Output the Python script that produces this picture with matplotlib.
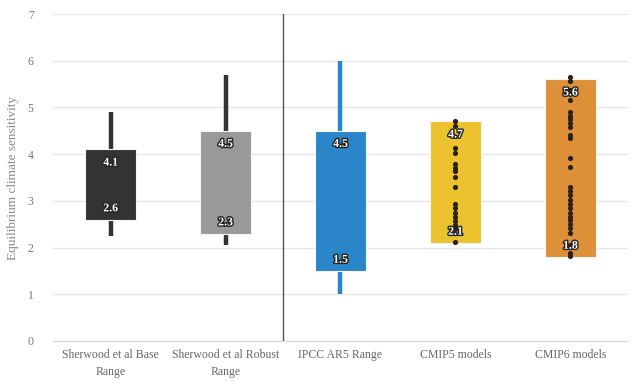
# Equilibrium climate sensitivity ranges vs. CMIP model spreads
import numpy as np
import matplotlib.pyplot as plt
import matplotlib.patheffects as pe

plt.rcParams['font.family'] = ['Liberation Serif', 'DejaVu Serif']

# Categories and ranges
categories = ["Sherwood et al Base\nRange", "Sherwood et al Robust\nRange",
              "IPCC AR5 Range", "CMIP5 models", "CMIP6 models"]
box_low = [2.6, 2.3, 1.5, 2.1, 1.8]
box_high = [4.1, 4.5, 4.5, 4.7, 5.6]
whisker_low = [2.25, 2.05, 1.0, None, None]
whisker_high = [4.9, 5.7, 6.0, None, None]
colors = ["#333333", "#999999", "#2a86c9", "#ecc32f", "#de9039"]
whisker_colors = ["#333333", "#333333", "#2a86c9", None, None]

# Individual model ECS values
cmip5_ecs = [4.70, 4.60, 4.13, 4.02, 3.80, 3.71, 3.63, 3.52, 3.30, 2.93,
             2.84, 2.75, 2.66, 2.57, 2.48, 2.39, 2.13]
cmip6_ecs = [5.66, 5.57, 5.37, 5.17, 4.91, 4.82, 4.75, 4.66, 4.58, 4.40,
             4.35, 3.91, 3.73, 3.30, 3.22, 3.13, 3.02, 2.93, 2.85, 2.74,
             2.66, 2.60, 2.51, 2.42, 2.31, 2.06, 1.88, 1.82]

fig = plt.figure(figsize=(6.4, 3.86), dpi=100)
ax = fig.add_axes([0.083, 0.1166, 0.898, 0.847])

x = np.arange(len(categories))

# whiskers
for i in range(len(categories)):
    if whisker_low[i] is not None:
        ax.vlines(x[i], whisker_low[i], whisker_high[i], color=whisker_colors[i],
                  linewidth=3.2, zorder=2)

# boxes
heights = [h - l for h, l in zip(box_high, box_low)]
ax.bar(x, heights, bottom=box_low, width=0.45, color=colors,
       edgecolor="#f4f4f4", linewidth=0.8, zorder=3)

# model dots
ax.plot([x[3]] * len(cmip5_ecs), cmip5_ecs, "o", color="#2b2118",
        markersize=2.7, zorder=4)
ax.plot([x[4]] * len(cmip6_ecs), cmip6_ecs, "o", color="#2b2118",
        markersize=2.7, zorder=4)

# value labels
outline = [pe.withStroke(linewidth=2, foreground="#222222")]
for i in range(len(categories)):
    ax.text(x[i], box_high[i] - 0.28, f"{box_high[i]:.1f}", ha="center", va="center",
            color="white", fontsize=8.5, fontweight="bold", path_effects=outline, zorder=5)
    ax.text(x[i], box_low[i] + 0.24, f"{box_low[i]:.1f}", ha="center", va="center",
            color="white", fontsize=8.5, fontweight="bold", path_effects=outline, zorder=5)

# separator between studies and models
ax.axvline(1.5, color="#555555", linewidth=1.0, zorder=1)

ax.set_xlim(-0.5, 4.5)
ax.set_ylim(0, 7)
ax.set_yticks(range(0, 8))
ax.set_xticks(x)
ax.set_xticklabels(categories, fontsize=8.5, color="#666666", linespacing=1.5)
ax.tick_params(axis="y", labelsize=8.5, labelcolor="#777777", length=0, pad=14)
ax.tick_params(axis="x", length=0, pad=6)
ax.grid(axis="y", color="#e6e6e6", linewidth=1.0, zorder=0)
ax.set_axisbelow(True)
for s in ["top", "right", "left"]:
    ax.spines[s].set_visible(False)
ax.spines["bottom"].set_color("#d9d9d9")
ax.set_ylabel("Equilibrium climate sensitivity", fontsize=9.5, color="#888888", labelpad=6)

fig.savefig("out.png", dpi=100)
